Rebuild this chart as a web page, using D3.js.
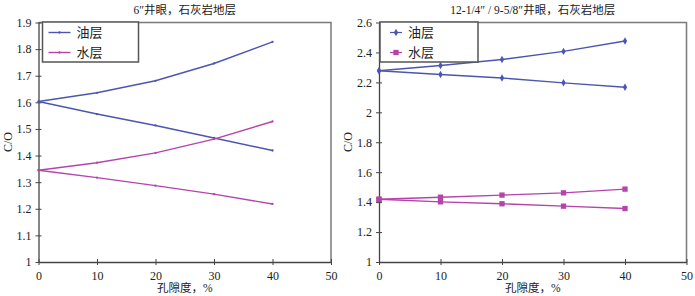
<!DOCTYPE html>
<html>
<head>
<meta charset="utf-8">
<script src="https://cdn.jsdelivr.net/npm/d3@7"></script>
<style>
  body { margin: 0; background: #fff; }
  svg text { font-family: "Liberation Serif", "DejaVu Serif", "Noto Sans CJK SC", serif; fill: #222; }
</style>
</head>
<body>
<div id="chart"></div>
<script>
// porosity (x) values shared by every series
var porosity = [0, 10, 20, 30, 40];
var legendNames = ["油层", "水层"];

// left panel: 6" hole
var leftTitle = "6″井眼，石灰岩地层";
var leftOilUp = [1.603, 1.636, 1.681, 1.746, 1.827];
var leftOilDown = [1.603, 1.556, 1.513, 1.466, 1.419];
var leftWaterUp = [1.345, 1.373, 1.41, 1.462, 1.528];
var leftWaterDown = [1.345, 1.317, 1.287, 1.255, 1.218];
var leftYTicks = [1, 1.1, 1.2, 1.3, 1.4, 1.5, 1.6, 1.7, 1.8, 1.9];

// right panel: 12-1/4" / 9-5/8" hole
var rightTitle = "12-1/4″ / 9-5/8″井眼，石灰岩地层";
var rightOilUp = [2.278, 2.313, 2.353, 2.407, 2.476];
var rightOilDown = [2.278, 2.253, 2.229, 2.197, 2.167];
var rightWaterUp = [1.419, 1.433, 1.447, 1.462, 1.487];
var rightWaterDown = [1.419, 1.402, 1.389, 1.373, 1.357];
var rightYTicks = [1, 1.2, 1.4, 1.6, 1.8, 2, 2.2, 2.4, 2.6];

var xTicks = [0, 10, 20, 30, 40, 50];
var oilColor = "#4b55b3", waterColor = "#b544aa";
var serif = "'Liberation Serif', 'DejaVu Serif', serif";

var svg = d3.select("#chart").append("svg")
    .attr("width", 695).attr("height", 296);

function drawPanel(cfg) {
  var x = d3.scaleLinear().domain([0, 50]).range([cfg.left, cfg.right]);
  var y = d3.scaleLinear().domain(cfg.yDomain).range([262, 22.5]);
  var g = svg.append("g");

  // frame: top and right gray
  g.append("path")
      .attr("d", "M" + x(0) + "," + y.range()[1] + "H" + x(50) + "V" + y.range()[0])
      .attr("fill", "none").attr("stroke", "#7a7a7a").attr("stroke-width", 1.5);

  // axes, ticks crossing the line
  var xAxis = d3.axisBottom(x).tickValues(xTicks).tickSizeInner(3).tickSizeOuter(0).tickPadding(4);
  var gx = g.append("g").attr("transform", "translate(0," + y.range()[0] + ")").call(xAxis)
      .attr("font-family", serif);
  gx.selectAll(".tick line").attr("y1", -3).attr("y2", 3).attr("stroke", "#444");
  gx.select(".domain").attr("stroke", "#444").attr("stroke-width", 1.3);
  gx.selectAll("text").attr("font-size", 12).attr("dy", "0.9em");

  var yAxis = d3.axisLeft(y).tickValues(cfg.yTicks).tickSizeInner(3).tickSizeOuter(0).tickPadding(4)
      .tickFormat(d3.format("~g"));
  var gy = g.append("g").attr("transform", "translate(" + x(0) + ",0)").call(yAxis)
      .attr("font-family", serif);
  gy.selectAll(".tick line").attr("x1", -3).attr("x2", 3).attr("stroke", "#444");
  gy.select(".domain").attr("stroke", "#444").attr("stroke-width", 1.3);
  gy.selectAll("text").attr("font-size", 12);

  g.selectAll(".domain").attr("fill", "none");
  g.selectAll(".tick text").style("font-family", serif).attr("fill", "#222");

  // title and axis labels
  g.append("text").attr("x", (x(0) + x(50)) / 2).attr("y", 14)
      .attr("text-anchor", "middle").attr("font-size", 11.5).text(cfg.title);
  g.append("text").attr("x", (x(0) + x(50)) / 2).attr("y", 292)
      .attr("text-anchor", "middle").attr("font-size", 11.5).text("孔隙度，%");
  g.append("text").attr("transform", "translate(" + (cfg.left - 27) + ",142) rotate(-90)")
      .attr("text-anchor", "middle").attr("font-size", 12).text("C/O");

  var line = d3.line().x(function(d, i) { return x(porosity[i]); }).y(function(d) { return y(d); });

  cfg.series.forEach(function(s) {
    g.append("path").datum(s.values).attr("d", line)
        .attr("fill", "none").attr("stroke", s.color).attr("stroke-width", 1.4);
    var pts = g.selectAll(null).data(s.values).enter();
    drawMarker(pts, s, x, y);
  });

  // legend
  var lg = g.append("g").attr("transform", "translate(" + (x(0) + cfg.legendDx) + ",22)");
  lg.append("rect").attr("width", cfg.legendW).attr("height", 40)
      .attr("fill", "#fff").attr("stroke", "#555").attr("stroke-width", 1.5);
  [{ name: legendNames[0], color: oilColor, shape: cfg.oilShape },
   { name: legendNames[1], color: waterColor, shape: cfg.waterShape }].forEach(function(e, i) {
    var yy = 10.5 + i * 20;
    lg.append("line").attr("x1", cfg.legendLine[0]).attr("x2", cfg.legendLine[1])
        .attr("y1", yy).attr("y2", yy).attr("stroke", e.color).attr("stroke-width", cfg.legendLineW);
    var mx = (cfg.legendLine[0] + cfg.legendLine[1]) / 2;
    lg.append("path").attr("transform", "translate(" + mx + "," + yy + ")")
        .attr("d", markerPath(e.shape)).attr("fill", e.color);
    lg.append("text").attr("x", cfg.legendLine[1] + 6).attr("y", yy + 4.5)
        .attr("font-size", 13).style("font-family", "'Noto Sans CJK SC', sans-serif").text(e.name);
  });
}

function markerPath(shape) {
  if (shape === "dot") return d3.symbol(d3.symbolCircle, 4)();
  if (shape === "diamond") return d3.symbol(d3.symbolDiamond, 16)();
  return d3.symbol(d3.symbolSquare, 28)();
}

function drawMarker(pts, s, x, y) {
  pts.append("path")
      .attr("transform", function(d, i) { return "translate(" + x(porosity[i]) + "," + y(d) + ")"; })
      .attr("d", markerPath(s.shape)).attr("fill", s.color);
}

drawPanel({
  left: 38.5, right: 331, yDomain: [1, 1.9], yTicks: leftYTicks, title: leftTitle,
  legendDx: 4, legendW: 96, legendLine: [6, 28], legendLineW: 1.4,
  oilShape: "dot", waterShape: "dot",
  series: [
    { values: leftOilUp, color: oilColor, shape: "dot" },
    { values: leftOilDown, color: oilColor, shape: "dot" },
    { values: leftWaterUp, color: waterColor, shape: "dot" },
    { values: leftWaterDown, color: waterColor, shape: "dot" }
  ]
});

drawPanel({
  left: 379, right: 686.5, yDomain: [1, 2.6], yTicks: rightYTicks, title: rightTitle,
  legendDx: 1, legendW: 98, legendLine: [10, 22], legendLineW: 1.2,
  oilShape: "diamond", waterShape: "square",
  series: [
    { values: rightOilUp, color: oilColor, shape: "diamond" },
    { values: rightOilDown, color: oilColor, shape: "diamond" },
    { values: rightWaterUp, color: waterColor, shape: "square" },
    { values: rightWaterDown, color: waterColor, shape: "square" }
  ]
});
</script>
</body>
</html>
